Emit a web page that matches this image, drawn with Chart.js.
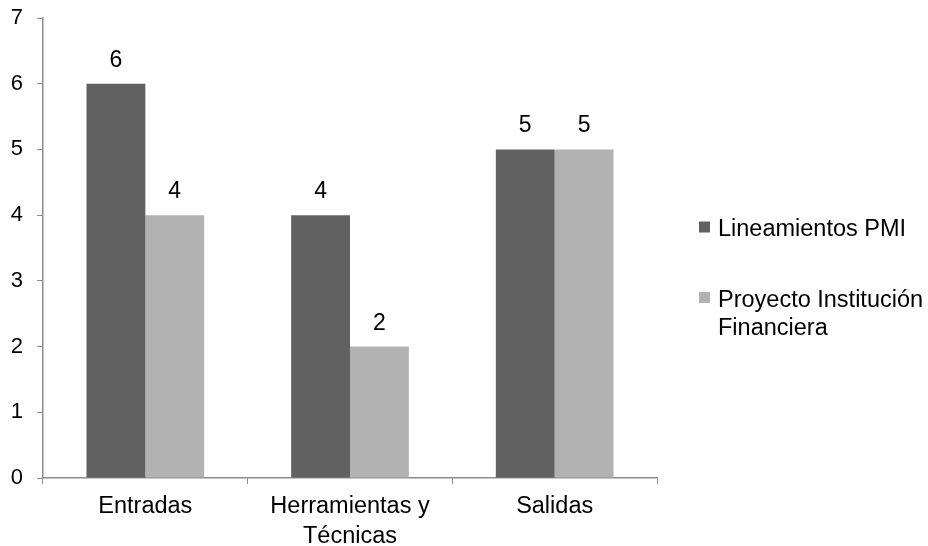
<!DOCTYPE html>
<html>
<head>
<meta charset="utf-8">
<script src="https://cdn.jsdelivr.net/npm/chart.js@4/dist/chart.umd.min.js"></script>
<style>
  html, body { margin: 0; padding: 0; background: #ffffff; }
  #wrap { width: 928px; height: 546px; }
</style>
</head>
<body>
<div id="wrap"><canvas id="chart" width="928" height="546"></canvas></div>
<script>
// Categories (multi-line label as an array of lines)
const categories = ['Entradas', ['Herramientas y', 'Técnicas'], 'Salidas'];
// Series names
const seriesNames = ['Lineamientos PMI', 'Proyecto Institución Financiera'];
// Series values
const lineamientosPMI = [6, 4, 5];
const proyectoInstitucion = [4, 2, 5];
// Value axis range
const yMin = 0;
const yMax = 7;
const yStep = 1;

const FONT = '"Liberation Sans", Arial, Helvetica, sans-serif';
const DARK = '#616161';
const LIGHT = '#b2b2b2';
const AXIS = '#8c8c8c';

// Value labels above each bar
const valueLabels = {
  id: 'valueLabels',
  afterDatasetsDraw(chart) {
    const ctx = chart.ctx;
    ctx.save();
    ctx.font = '23px ' + FONT;
    ctx.fillStyle = '#000';
    ctx.textAlign = 'center';
    ctx.textBaseline = 'alphabetic';
    chart.data.datasets.forEach((ds, i) => {
      const meta = chart.getDatasetMeta(i);
      meta.data.forEach((el, j) => {
        ctx.fillText(String(ds.data[j]), el.x, el.y - 17);
      });
    });
    ctx.restore();
  }
};

// Legend on the right with word wrapping
const sideLegend = {
  id: 'sideLegend',
  afterDraw(chart) {
    const ctx = chart.ctx;
    const boxX = 699, box = 11, textX = 718, maxW = 210;
    const firstY = 227, itemGap = 70.5, lineH = 28;
    ctx.save();
    ctx.font = '23.5px ' + FONT;
    ctx.textAlign = 'left';
    ctx.textBaseline = 'alphabetic';
    chart.data.datasets.forEach((ds, i) => {
      const cy = firstY + i * itemGap;
      ctx.fillStyle = ds.backgroundColor;
      ctx.fillRect(boxX, cy - box / 2, box, box);
      // wrap words
      const words = ds.label.split(' ');
      const lines = [];
      let cur = '';
      words.forEach(w => {
        const test = cur ? cur + ' ' + w : w;
        if (ctx.measureText(test).width > maxW && cur) { lines.push(cur); cur = w; }
        else cur = test;
      });
      if (cur) lines.push(cur);
      ctx.fillStyle = '#000';
      lines.forEach((ln, k) => ctx.fillText(ln, textX, cy + 9 + k * lineH));
    });
    ctx.restore();
  }
};

new Chart(document.getElementById('chart'), {
  type: 'bar',
  data: {
    labels: categories,
    datasets: [
      { label: seriesNames[0], data: lineamientosPMI, backgroundColor: DARK, borderWidth: 0 },
      { label: seriesNames[1], data: proyectoInstitucion, backgroundColor: LIGHT, borderWidth: 0 }
    ]
  },
  options: {
    responsive: false,
    animation: false,
    devicePixelRatio: 1,
    layout: { padding: { left: 0, top: 18, right: 271, bottom: 0 } },
    datasets: { bar: { categoryPercentage: 0.575, barPercentage: 1.0 } },
    plugins: {
      legend: { display: false },
      tooltip: { enabled: false }
    },
    scales: {
      x: {
        type: 'category',
        offset: true,
        grid: { offset: true, drawOnChartArea: false, tickLength: 6, color: AXIS, lineWidth: 1 },
        border: { color: AXIS, width: 1.5 },
        ticks: { color: '#000', font: { family: FONT, size: 23.5, lineHeight: 1.25 }, padding: 8, maxRotation: 0, autoSkip: false },
        afterFit(scale) { scale.height = 68; scale.paddingLeft = 0; scale.paddingRight = 0; }
      },
      y: {
        min: yMin,
        max: yMax,
        grid: { drawOnChartArea: false, tickLength: 6, color: AXIS, lineWidth: 1 },
        border: { color: AXIS, width: 1.5 },
        ticks: { stepSize: yStep, color: '#000', font: { family: FONT, size: 22 }, padding: 14 },
        afterFit(scale) { scale.width = 43; scale.paddingTop = 0; scale.paddingBottom = 0; }
      }
    }
  },
  plugins: [valueLabels, sideLegend]
});
</script>
</body>
</html>
